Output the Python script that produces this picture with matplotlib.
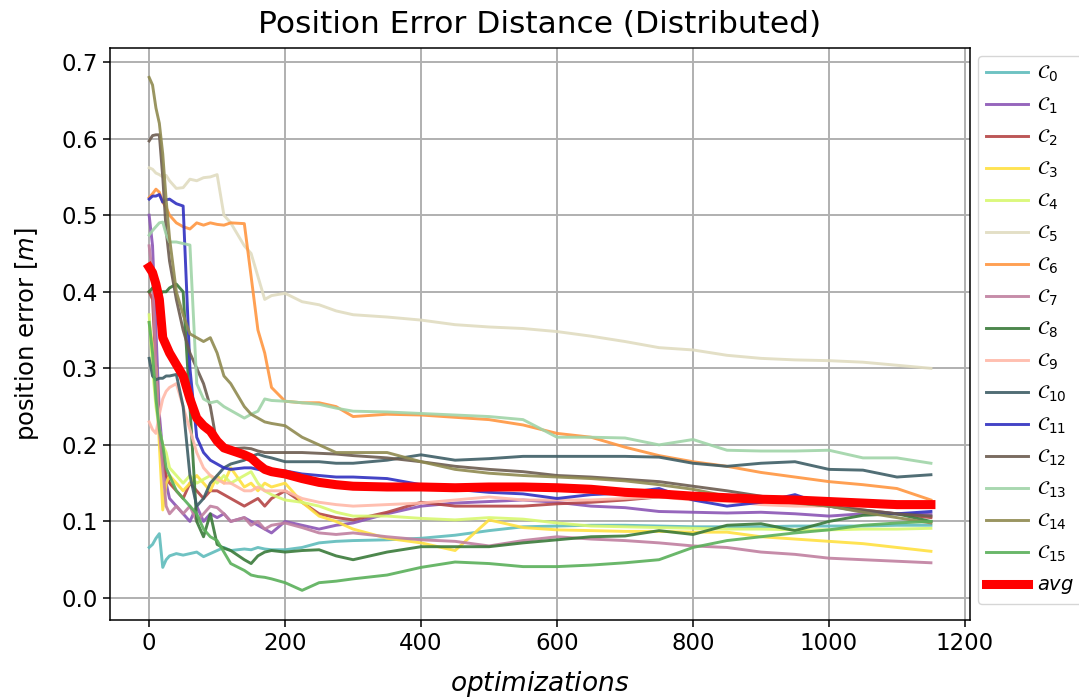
import numpy as np
import matplotlib
matplotlib.use('Agg')
import matplotlib.pyplot as plt

# шаги оптимизации, в которых сняты значения
steps = [0, 5, 10, 15, 20, 25, 30, 40, 50, 60, 70, 80, 90, 100, 110, 120,
         140, 150, 160, 170, 180, 200, 225, 250, 275, 300, 350, 400, 450,
         500, 550, 600, 650, 700, 750, 800, 850, 900, 950, 1000, 1050,
         1100, 1150]

# ошибка положения по каждому агенту
c0 = [0.066, 0.070, 0.078, 0.084, 0.040, 0.050, 0.055, 0.058, 0.056, 0.058,
      0.060, 0.054, 0.058, 0.062, 0.066, 0.062, 0.064, 0.063, 0.066, 0.064,
      0.063, 0.063, 0.066, 0.072, 0.074, 0.075, 0.076, 0.078, 0.082, 0.088,
      0.093, 0.094, 0.095, 0.095, 0.094, 0.093, 0.093, 0.093, 0.094, 0.094,
      0.094, 0.095, 0.095]
c1 = [0.50, 0.46, 0.35, 0.24, 0.19, 0.15, 0.13, 0.12, 0.11, 0.10, 0.12,
      0.10, 0.11, 0.105, 0.11, 0.10, 0.105, 0.10, 0.095, 0.09, 0.085, 0.10,
      0.095, 0.09, 0.095, 0.098, 0.11, 0.12, 0.124, 0.126, 0.128, 0.125,
      0.12, 0.118, 0.113, 0.112, 0.111, 0.112, 0.11, 0.107, 0.11, 0.11,
      0.109]
c2 = [0.40, 0.39, 0.30, 0.22, 0.18, 0.16, 0.15, 0.14, 0.13, 0.15, 0.14,
      0.13, 0.14, 0.14, 0.135, 0.13, 0.12, 0.125, 0.13, 0.12, 0.13, 0.14,
      0.125, 0.11, 0.105, 0.102, 0.112, 0.125, 0.12, 0.12, 0.12, 0.123,
      0.125, 0.128, 0.132, 0.13, 0.128, 0.127, 0.125, 0.122, 0.115, 0.11,
      0.105]
c3 = [0.36, 0.33, 0.30, 0.20, 0.115, 0.15, 0.16, 0.15, 0.14, 0.15, 0.16,
      0.15, 0.14, 0.16, 0.15, 0.17, 0.145, 0.15, 0.14, 0.15, 0.145, 0.15,
      0.125, 0.107, 0.10, 0.09, 0.078, 0.072, 0.062, 0.102, 0.092, 0.089,
      0.088, 0.087, 0.087, 0.086, 0.086, 0.08, 0.077, 0.074, 0.071, 0.066,
      0.061]
c4 = [0.37, 0.30, 0.25, 0.22, 0.20, 0.19, 0.17, 0.16, 0.15, 0.16, 0.15,
      0.155, 0.16, 0.15, 0.16, 0.15, 0.16, 0.165, 0.15, 0.14, 0.135, 0.128,
      0.125, 0.12, 0.112, 0.107, 0.107, 0.104, 0.102, 0.105, 0.103, 0.098,
      0.094, 0.093, 0.092, 0.091, 0.09, 0.09, 0.089, 0.089, 0.09, 0.09,
      0.091]
c5 = [0.562, 0.56, 0.555, 0.553, 0.55, 0.552, 0.545, 0.535, 0.536, 0.547,
      0.545, 0.549, 0.55, 0.553, 0.50, 0.49, 0.46, 0.45, 0.42, 0.39, 0.395,
      0.398, 0.387, 0.383, 0.375, 0.37, 0.367, 0.363, 0.357, 0.354, 0.352,
      0.348, 0.342, 0.335, 0.327, 0.324, 0.317, 0.313, 0.311, 0.31, 0.308,
      0.304, 0.30]
c6 = [0.523, 0.528, 0.534, 0.53, 0.517, 0.51, 0.50, 0.49, 0.485, 0.482,
      0.49, 0.487, 0.49, 0.488, 0.487, 0.49, 0.489, 0.42, 0.35, 0.32, 0.275,
      0.257, 0.255, 0.255, 0.25, 0.237, 0.24, 0.239, 0.236, 0.233, 0.226,
      0.215, 0.21, 0.197, 0.186, 0.178, 0.172, 0.164, 0.158, 0.152, 0.148,
      0.143, 0.128]
c7 = [0.46, 0.42, 0.30, 0.22, 0.17, 0.12, 0.11, 0.12, 0.11, 0.12, 0.10,
      0.11, 0.12, 0.118, 0.11, 0.10, 0.105, 0.095, 0.10, 0.09, 0.095, 0.098,
      0.092, 0.085, 0.083, 0.085, 0.08, 0.076, 0.074, 0.068, 0.075, 0.08,
      0.077, 0.075, 0.072, 0.068, 0.066, 0.06, 0.057, 0.052, 0.05, 0.048,
      0.046]
c8 = [0.40, 0.405, 0.40, 0.395, 0.40, 0.40, 0.405, 0.41, 0.40, 0.25, 0.10,
      0.08, 0.11, 0.07, 0.065, 0.062, 0.05, 0.045, 0.055, 0.06, 0.062, 0.06,
      0.062, 0.063, 0.055, 0.05, 0.06, 0.067, 0.067, 0.067, 0.072, 0.076,
      0.08, 0.081, 0.088, 0.083, 0.095, 0.097, 0.088, 0.10, 0.108, 0.11,
      0.10]
c9 = [0.23, 0.22, 0.215, 0.24, 0.26, 0.27, 0.275, 0.28, 0.25, 0.22, 0.19,
      0.17, 0.16, 0.155, 0.15, 0.15, 0.14, 0.14, 0.145, 0.14, 0.14, 0.14,
      0.13, 0.125, 0.122, 0.12, 0.122, 0.124, 0.128, 0.132, 0.128, 0.128,
      0.128, 0.13, 0.132, 0.128, 0.126, 0.122, 0.12, 0.12, 0.12, 0.118,
      0.118]
c10 = [0.313, 0.29, 0.285, 0.287, 0.287, 0.29, 0.29, 0.292, 0.25, 0.16,
       0.12, 0.13, 0.15, 0.16, 0.17, 0.175, 0.18, 0.185, 0.188, 0.185,
       0.183, 0.178, 0.178, 0.178, 0.176, 0.176, 0.18, 0.187, 0.18, 0.182,
       0.185, 0.185, 0.185, 0.185, 0.184, 0.176, 0.172, 0.176, 0.178, 0.168,
       0.167, 0.158, 0.161]
c11 = [0.521, 0.525, 0.525, 0.527, 0.517, 0.52, 0.521, 0.515, 0.512, 0.30,
       0.21, 0.19, 0.18, 0.175, 0.17, 0.168, 0.17, 0.17, 0.168, 0.166,
       0.167, 0.166, 0.162, 0.16, 0.158, 0.158, 0.156, 0.148, 0.142, 0.138,
       0.136, 0.13, 0.135, 0.137, 0.143, 0.128, 0.12, 0.125, 0.135, 0.12,
       0.113, 0.11, 0.113]
c12 = [0.597, 0.604, 0.605, 0.605, 0.55, 0.48, 0.44, 0.39, 0.35, 0.32, 0.30,
       0.28, 0.25, 0.20, 0.195, 0.195, 0.196, 0.195, 0.192, 0.19, 0.19, 0.19,
       0.19, 0.189, 0.188, 0.186, 0.183, 0.178, 0.172, 0.168, 0.165, 0.16,
       0.158, 0.155, 0.152, 0.146, 0.14, 0.133, 0.125, 0.12, 0.115, 0.11,
       0.107]
c13 = [0.474, 0.48, 0.485, 0.49, 0.491, 0.475, 0.465, 0.465, 0.463, 0.461,
       0.28, 0.26, 0.255, 0.257, 0.25, 0.245, 0.235, 0.24, 0.244, 0.26,
       0.258, 0.257, 0.255, 0.253, 0.248, 0.244, 0.243, 0.241, 0.239, 0.237,
       0.233, 0.21, 0.21, 0.209, 0.20, 0.207, 0.193, 0.192, 0.192, 0.193,
       0.183, 0.183, 0.176]
c14 = [0.68, 0.67, 0.64, 0.62, 0.58, 0.52, 0.47, 0.40, 0.37, 0.345, 0.34,
       0.335, 0.34, 0.32, 0.29, 0.28, 0.25, 0.24, 0.235, 0.23, 0.228, 0.225,
       0.21, 0.20, 0.19, 0.19, 0.19, 0.178, 0.168, 0.163, 0.16, 0.158,
       0.156, 0.153, 0.148, 0.142, 0.133, 0.128, 0.124, 0.12, 0.112, 0.105,
       0.098]
c15 = [0.36, 0.32, 0.26, 0.22, 0.20, 0.17, 0.16, 0.14, 0.13, 0.12, 0.11,
       0.09, 0.08, 0.075, 0.06, 0.045, 0.036, 0.03, 0.028, 0.027, 0.025,
       0.02, 0.01, 0.02, 0.022, 0.025, 0.03, 0.04, 0.047, 0.045, 0.041,
       0.041, 0.043, 0.046, 0.05, 0.066, 0.075, 0.08, 0.085, 0.089, 0.095,
       0.098, 0.10]
avg = [0.432, 0.425, 0.41, 0.39, 0.34, 0.33, 0.32, 0.305, 0.29, 0.26, 0.235,
       0.225, 0.218, 0.205, 0.196, 0.193, 0.187, 0.183, 0.175, 0.168, 0.165,
       0.162, 0.156, 0.151, 0.148, 0.146, 0.145, 0.145, 0.144, 0.145, 0.145,
       0.144, 0.142, 0.138, 0.136, 0.133, 0.131, 0.129, 0.128, 0.126, 0.124,
       0.122, 0.122]

series = [c0, c1, c2, c3, c4, c5, c6, c7, c8, c9, c10, c11, c12, c13, c14, c15]
colors = ['#5fbcbc', '#8b55b5', '#b54545', '#ffe040', '#d8f870', '#e0dcc0',
          '#ff9640', '#c080a0', '#3a7a3a', '#ffb8a8', '#3e5e66', '#3030c0',
          '#6c5c50', '#a0d4a8', '#8f8a50', '#5ab05a']

#----------------------------------------------------------------------------#
plt.figure(figsize=(10.79, 7.0), dpi=100)
plt.subplots_adjust(left=0.102, right=0.899, top=0.931, bottom=0.114)

for i in range(len(series)):
    plt.plot(steps, series[i], color=colors[i], linewidth=2.1, alpha=0.9,
             label=r'$\mathcal{C}_{%d}$' % i)
plt.plot(steps, avg, color='red', linewidth=6.5, label=r'$avg$')

plt.grid(color='#b0b0b0', linewidth=1.4)
plt.xlim(-57.5, 1207.5)
plt.ylim(-0.029, 0.718)
plt.xticks([0, 200, 400, 600, 800, 1000, 1200], fontsize=16.5)
plt.yticks([0.0, 0.1, 0.2, 0.3, 0.4, 0.5, 0.6, 0.7], fontsize=16.5)
plt.tick_params(length=5, width=1.1)
for s in plt.gca().spines.values():
    s.set_linewidth(1.1)
plt.xlabel(r'$optimizations$', fontsize=19, labelpad=10)
plt.ylabel(r'position error $[m]$', fontsize=17.5, labelpad=15)
plt.title('Position Error Distance (Distributed)', fontsize=22.5, pad=11)
plt.legend(loc='upper left', bbox_to_anchor=(1.0, 1.0), fontsize=14,
           borderaxespad=0.4, borderpad=0.4, labelspacing=0.6,
           handlelength=2.2, handletextpad=0.45)

plt.savefig('out.png', dpi=100)
